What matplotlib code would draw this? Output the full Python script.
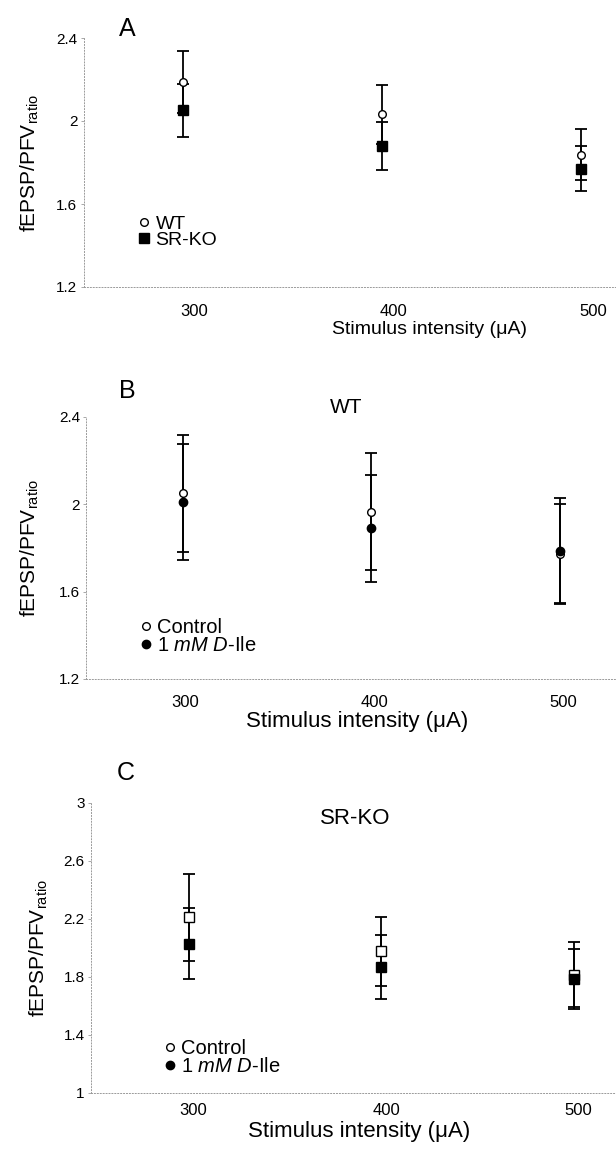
import matplotlib
matplotlib.use("Agg")
import matplotlib.pyplot as plt
from matplotlib.lines import Line2D
from matplotlib.transforms import ScaledTranslation

plt.rcParams.update({
    "font.family": ["Liberation Sans", "DejaVu Sans"],
    "mathtext.fontset": "custom",
    "mathtext.rm": "Liberation Sans",
    "mathtext.it": "Liberation Sans:italic",
    "mathtext.default": "regular",
})

W, H = 616, 1149

# intensities (uA)
stim = [300, 400, 500]

# panel A: genotype comparison
wt_mean = [2.187, 2.032, 1.837]
wt_sem = [0.149, 0.142, 0.123]
ko_mean = [2.051, 1.878, 1.771]
ko_sem = [0.126, 0.115, 0.107]

# panel B: WT, control vs D-Ile
b_ctrl_mean = [2.049, 1.966, 1.772]
b_ctrl_sem = [0.267, 0.268, 0.228]
b_dile_mean = [2.010, 1.889, 1.787]
b_dile_sem = [0.265, 0.245, 0.239]

# panel C: SR-KO, control vs D-Ile
c_ctrl_mean = [2.211, 1.977, 1.816]
c_ctrl_sem = [0.300, 0.239, 0.223]
c_dile_mean = [2.030, 1.869, 1.786]
c_dile_sem = [0.245, 0.218, 0.208]

DOT = "#9a9a9a"


def px_axes(fig, left, top, right, bottom):
    return fig.add_axes([left / W, 1 - bottom / H, (right - left) / W, (bottom - top) / H])


def style(ax, xlim, ylim, yticks, ylabels, xpad, xshift=0):
    ax.set_xlim(*xlim)
    ax.set_ylim(*ylim)
    for s in ("top", "right"):
        ax.spines[s].set_visible(False)
    for s in ("left", "bottom"):
        ax.spines[s].set_linestyle((0, (1, 2)))
        ax.spines[s].set_color(DOT)
        ax.spines[s].set_linewidth(0.7)
    ax.set_yticks(yticks)
    ax.set_yticklabels(ylabels, fontsize=11)
    ax.set_xticks(stim)
    ax.set_xticklabels([str(s) for s in stim], fontsize=12)
    ax.tick_params(axis="y", length=2.5, width=0.6, color=DOT, pad=2)
    ax.tick_params(axis="x", length=0, pad=xpad)
    if xshift:
        off = ScaledTranslation(xshift / 100, 0, ax.figure.dpi_scale_trans)
        for lab in ax.get_xticklabels():
            lab.set_transform(lab.get_transform() + off)
    ax.patch.set_alpha(0)


def series(ax, pairs):
    for mean, sem, _ in pairs:
        ax.errorbar(stim, mean, yerr=sem, fmt="none", ecolor="black",
                    elinewidth=1.3, capsize=4, capthick=1.3, zorder=2)
    for mean, sem, mk in pairs:
        ax.plot(stim, mean, ls="none", zorder=3, **mk)


def legend(ax, handles, labels, x, y, fs):
    ax.legend(handles, labels, loc="upper left", bbox_to_anchor=(x / W, 1 - y / H),
              bbox_transform=ax.figure.transFigure, frameon=False, fontsize=fs,
              handlelength=0.55, handletextpad=0.3, labelspacing=-0.05,
              borderpad=0, borderaxespad=0)


def ftext(fig, x, y, s, **kw):
    fig.text(x / W, 1 - y / H, s, ha="center", va="center", **kw)


open_c = dict(marker="o", ms=5.5, mfc="white", mec="black", mew=1.0)
fill_c = dict(marker="o", ms=6, mfc="black", mec="black")
open_s = dict(marker="s", ms=7, mfc="white", mec="black", mew=1.0)
fill_s = dict(marker="s", ms=7, mfc="black", mec="black")

fig = plt.figure(figsize=(W / 100, H / 100), dpi=100)
ylab = "fEPSP/PFV$_{ratio}$"
dile = "1 $\\mathit{mM}$ $\\mathit{D}$-Ile"

# ---- A
axA = px_axes(fig, 83.7, 38, 616, 287)
style(axA, (250.4, 517.5), (1.2, 2.4), [1.2, 1.6, 2.0, 2.4], ["1.2", "1.6", "2", "2.4"], 12, xshift=12)
series(axA, [(wt_mean, wt_sem, open_c), (ko_mean, ko_sem, fill_s)])
legend(axA,
       [Line2D([], [], ls="none", **open_c), Line2D([], [], ls="none", **dict(fill_s, ms=6.5))],
       ["WT", "SR-KO"], 139, 215, 14)
ftext(fig, 127.5, 29.5, "A", fontsize=18)
ftext(fig, 29.5, 163, ylab, fontsize=15, rotation=90)
ftext(fig, 429, 330, "Stimulus intensity (\u03bcA)", fontsize=14)

# ---- B
axB = px_axes(fig, 86.4, 416.7, 616, 679)
style(axB, (249, 529.7), (1.2, 2.4), [1.2, 1.6, 2.0, 2.4], ["1.2", "1.6", "2", "2.4"], 11.5, xshift=3)
series(axB, [(b_ctrl_mean, b_ctrl_sem, open_c), (b_dile_mean, b_dile_sem, fill_c)])
legend(axB,
       [Line2D([], [], ls="none", **open_c), Line2D([], [], ls="none", **fill_c)],
       ["Control", dile], 140, 618, 14.5)
ftext(fig, 127, 391.5, "B", fontsize=18)
ftext(fig, 346, 407.5, "WT", fontsize=15)
ftext(fig, 29.5, 548, ylab, fontsize=15, rotation=90)
ftext(fig, 357.5, 721, "Stimulus intensity (\u03bcA)", fontsize=16)

# ---- C
axC = px_axes(fig, 91, 803, 616, 1093)
style(axC, (249.3, 522), (1.0, 3.0), [1.0, 1.4, 1.8, 2.2, 2.6, 3.0],
      ["1", "1.4", "1.8", "2.2", "2.6", "3"], 7, xshift=5)
series(axC, [(c_ctrl_mean, c_ctrl_sem, open_s), (c_dile_mean, c_dile_sem, fill_s)])
legend(axC,
       [Line2D([], [], ls="none", **open_c), Line2D([], [], ls="none", **fill_c)],
       ["Control", dile], 164, 1039, 14.5)
ftext(fig, 126, 773.5, "C", fontsize=18)
ftext(fig, 355, 818, "SR-KO", fontsize=16)
ftext(fig, 39, 948, ylab, fontsize=15, rotation=90)
ftext(fig, 359, 1131, "Stimulus intensity (\u03bcA)", fontsize=16)

fig.savefig("out.png", dpi=100)
